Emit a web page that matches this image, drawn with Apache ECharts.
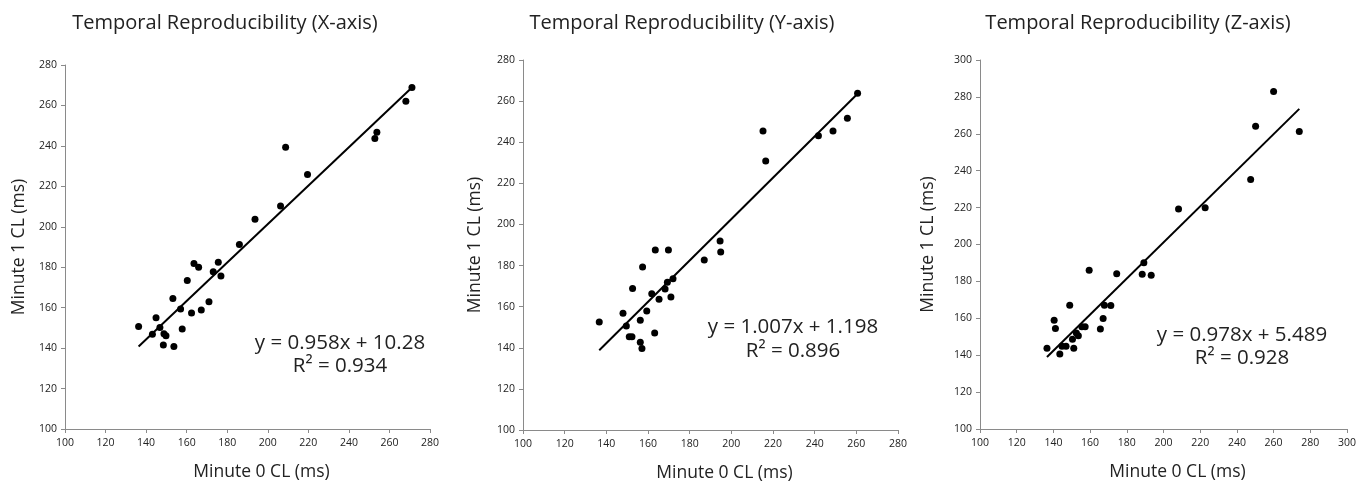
<!DOCTYPE html>
<html>
<head>
<meta charset="utf-8">
<title>Temporal Reproducibility</title>
<script src="https://cdn.jsdelivr.net/npm/echarts@6/dist/echarts.min.js"></script>
<style>
  html, body { margin: 0; padding: 0; background: #fff; }
  #chart { width: 1370px; height: 487px; }
</style>
</head>
<body>
<div id="chart"></div>
<script>
// panel titles and fit text
var titles = ['Temporal Reproducibility (X-axis)', 'Temporal Reproducibility (Y-axis)', 'Temporal Reproducibility (Z-axis)'];
var fitLines = ['y = 0.958x + 10.28', 'y = 1.007x + 1.198', 'y = 0.978x + 5.489'];
var r2Lines = ['R\u00b2 = 0.934', 'R\u00b2 = 0.896', 'R\u00b2 = 0.928'];

// X-axis panel: minute 0 / minute 1 cycle length (ms)
var xMin0 = [136.3, 143.1, 144.9, 146.8, 148.8, 149.8, 148.5, 153.7, 153.2, 157.0, 157.8, 160.3, 162.4, 163.6, 165.9,
  167.2, 171.0, 173.1, 175.6, 176.9, 186.0, 193.7, 206.3, 208.8, 219.6, 252.8, 253.8, 268.1, 271.1];
var xMin1 = [150.7, 146.9, 155.0, 150.2, 147.1, 146.1, 141.5, 140.8, 164.5, 159.3, 149.5, 173.4, 157.4, 181.8, 180.0,
  158.9, 162.9, 177.7, 182.5, 175.6, 191.2, 203.7, 210.3, 239.3, 225.8, 243.7, 246.8, 262.1, 268.9];

// Y-axis panel
var yMin0 = [136.6, 148.0, 149.6, 151.0, 152.3, 152.6, 156.3, 157.1, 156.3, 157.4, 159.4, 161.8, 163.2, 163.5, 165.3,
  168.2, 169.3, 169.8, 171.0, 172.0, 187.0, 194.6, 194.9, 215.2, 216.5, 241.8, 248.8, 255.7, 260.6];
var yMin1 = [152.6, 156.8, 150.6, 145.4, 145.4, 168.8, 142.7, 139.7, 153.4, 179.3, 157.9, 166.3, 147.2, 187.6, 163.6,
  168.6, 171.9, 187.6, 164.7, 173.6, 182.7, 192.0, 186.6, 245.5, 230.9, 243.1, 245.5, 251.7, 263.8];

// Z-axis panel
var zMin0 = [136.5, 140.4, 141.1, 143.5, 144.7, 146.9, 148.9, 150.4, 151.1, 152.5, 153.6, 155.5, 157.3, 159.5,
  165.6, 167.1, 167.8, 171.3, 174.5, 188.4, 189.3, 193.3, 208.2, 222.7, 247.5, 250.2, 260.0, 274.0];
var zMin1 = [143.7, 159.0, 154.5, 140.6, 144.9, 144.9, 167.1, 148.6, 143.7, 152.0, 150.5, 155.4, 155.4, 186.1,
  154.2, 159.9, 167.1, 167.0, 184.1, 183.9, 190.1, 183.4, 219.3, 219.9, 235.2, 264.1, 282.9, 261.2];

// trend line end points
var trendX = [[136.3, 271.1], [136.6, 260.6], [136.5, 274.0]];
var trendY = [[140.8, 268.9], [138.8, 263.6], [139.0, 273.5]];

// axis ranges
var xMax = [280, 280, 300];
var yMax = [280, 280, 300];
var axisMin = 100;
var axisStep = 20;

var xNameLabel = 'Minute 0 CL (ms)';
var yNameLabel = 'Minute 1 CL (ms)';

var font = '"Open Sans", "DejaVu Sans", sans-serif';
var sets = [[xMin0, xMin1], [yMin0, yMin1], [zMin0, zMin1]];

var grids = [
  { left: 65, top: 65, width: 365, height: 364 },
  { left: 523, top: 60, width: 375, height: 370 },
  { left: 980, top: 60, width: 367, height: 369 }
];
var titleX = [225, 682, 1138];
var eqPos = [[340, 343, 366], [793, 327, 351], [1242, 335, 358]];
var yNameGap = [37, 39, 43];

var chartObj = echarts.init(document.getElementById('chart'));

var xAxes = [], yAxes = [], series = [], graphics = [];
for (var i = 0; i < 3; i++) {
  xAxes.push({
    type: 'value', gridIndex: i, min: axisMin, max: xMax[i], interval: axisStep,
    name: xNameLabel, nameLocation: 'middle', nameGap: 34,
    nameTextStyle: { fontFamily: font, fontSize: 17.5, color: '#222', padding: [0, 0, 0, 28] },
    axisLine: { lineStyle: { color: '#8a8a8a', width: 1 } },
    axisTick: { show: true, length: 4, lineStyle: { color: '#8a8a8a' } },
    axisLabel: { fontFamily: font, fontSize: 10.5, color: '#222', margin: 9 },
    splitLine: { show: false }
  });
  yAxes.push({
    type: 'value', gridIndex: i, min: axisMin, max: yMax[i], interval: axisStep,
    name: yNameLabel, nameLocation: 'middle', nameGap: yNameGap[i], nameRotate: 90,
    nameTextStyle: { fontFamily: font, fontSize: 17.5, color: '#222' },
    axisLine: { show: true, lineStyle: { color: '#8a8a8a', width: 1 } },
    axisTick: { show: true, length: 4, lineStyle: { color: '#8a8a8a' } },
    axisLabel: { fontFamily: font, fontSize: 10.5, color: '#222', margin: 8 },
    splitLine: { show: false }
  });
  var pts = sets[i][0].map(function (v, k) { return [v, sets[i][1][k]]; });
  series.push({
    type: 'scatter', xAxisIndex: i, yAxisIndex: i, data: pts,
    symbolSize: 7, itemStyle: { color: '#000', opacity: 1 }, z: 3
  });
  series.push({
    type: 'line', xAxisIndex: i, yAxisIndex: i,
    data: [[trendX[i][0], trendY[i][0]], [trendX[i][1], trendY[i][1]]],
    symbol: 'none', lineStyle: { color: '#000', width: 2 }, z: 2
  });
  graphics.push({
    type: 'text', x: titleX[i], y: 23,
    style: { text: titles[i], fontFamily: font, fontSize: 20, fill: '#222', textAlign: 'center', textVerticalAlign: 'middle' }
  });
  graphics.push({
    type: 'text', x: eqPos[i][0], y: eqPos[i][1],
    style: { text: fitLines[i], fontFamily: font, fontSize: 20.5, fill: '#222', textAlign: 'center', textVerticalAlign: 'middle' }
  });
  graphics.push({
    type: 'text', x: eqPos[i][0], y: eqPos[i][2],
    style: { text: r2Lines[i], fontFamily: font, fontSize: 20.5, fill: '#222', textAlign: 'center', textVerticalAlign: 'middle' }
  });
}

var option = {
  backgroundColor: '#fff',
  animation: false,
  grid: grids,
  xAxis: xAxes,
  yAxis: yAxes,
  series: series,
  graphic: graphics
};
chartObj.setOption(option);
</script>
</body>
</html>
